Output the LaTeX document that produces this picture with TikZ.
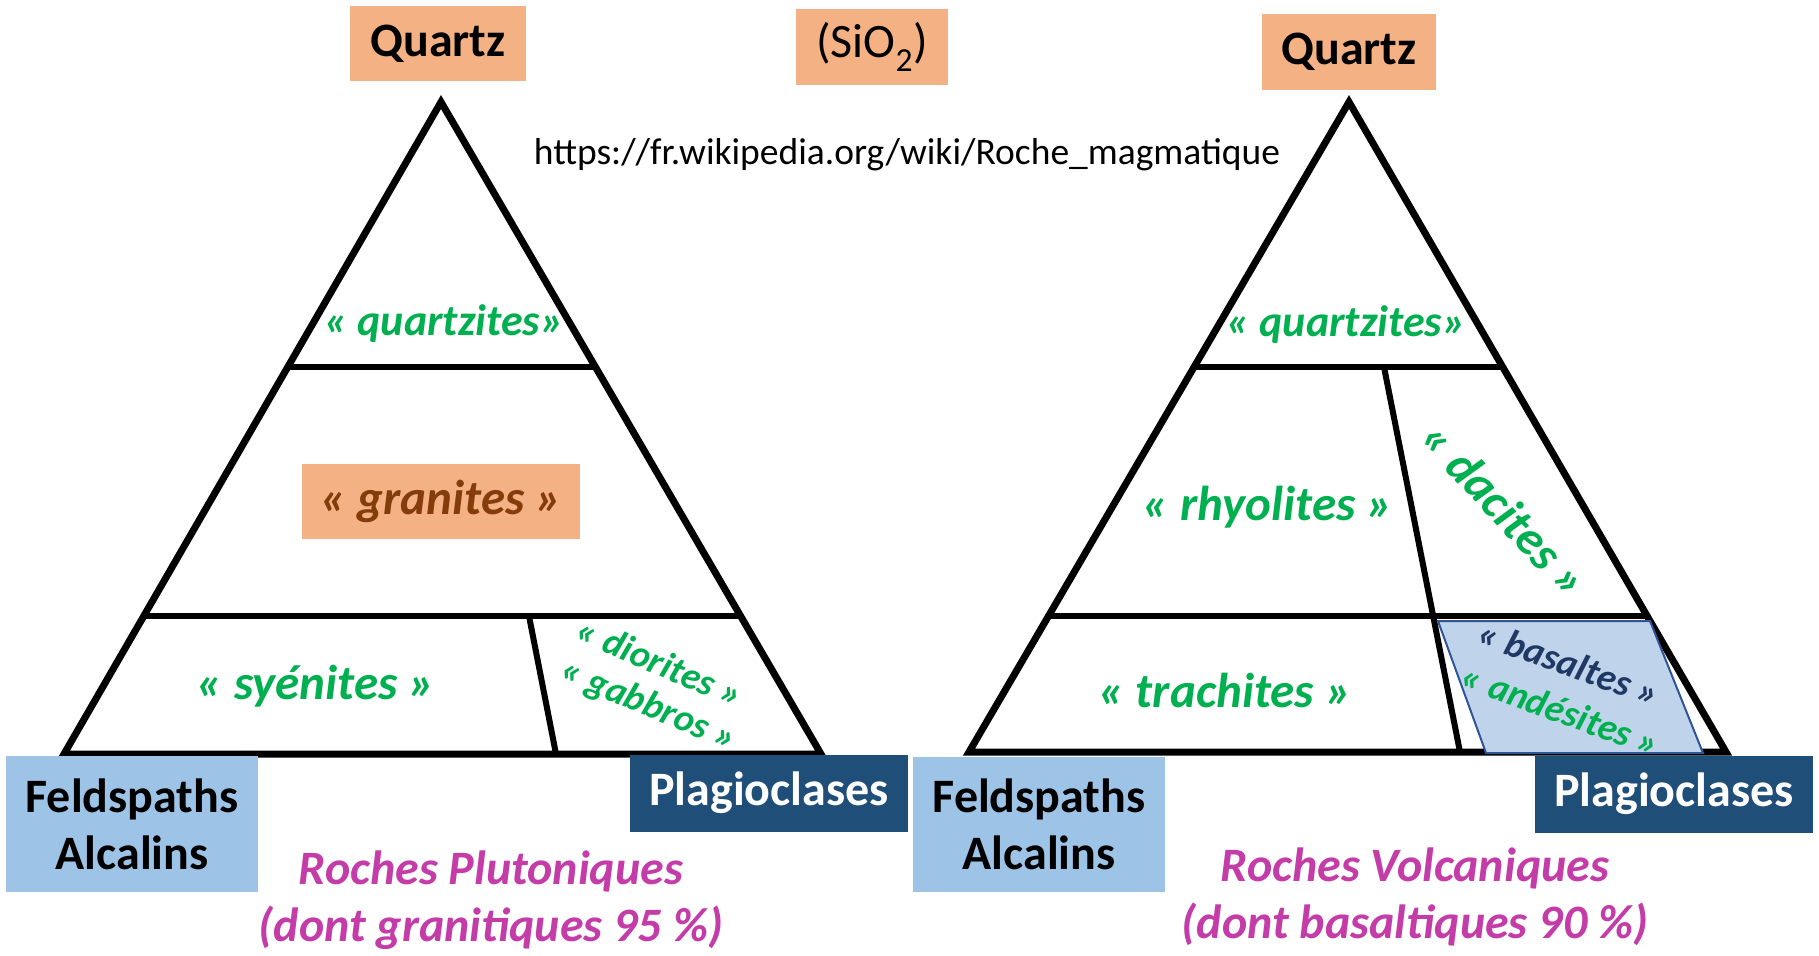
\documentclass[tikz,border=0pt]{standalone}
\usepackage{fontspec}
\setmainfont{Carlito}
\usetikzlibrary{calc}
\definecolor{orangebox}{HTML}{F4B183}
\definecolor{brownlbl}{HTML}{843C0C}
\definecolor{greenlbl}{HTML}{00B050}
\definecolor{lightbluebox}{HTML}{9DC3E6}
\definecolor{darkbluebox}{HTML}{1F4E79}
\definecolor{magentalbl}{HTML}{C43CA8}
\definecolor{navylbl}{HTML}{1F3864}
\definecolor{basfill}{HTML}{BFD3EA}
\definecolor{basline}{HTML}{2F5597}
\begin{document}
\begin{tikzpicture}[x=1pt,y=-1pt,
  tri/.style={line width=7pt, line join=miter, draw=black},
  inner/.style={line width=6pt, draw=black},
  box/.style={rectangle, inner sep=0pt, anchor=center},
  bigfont/.style={font=\fontsize{48}{52}\selectfont\bfseries},
  rocklbl/.style={font=\fontsize{49}{52}\selectfont\bfseries\itshape, text=greenlbl, inner sep=0pt},
  smalllbl/.style={font=\fontsize{38}{40}\selectfont\bfseries\itshape, text=greenlbl, inner sep=0pt},
  famlbl/.style={font=\fontsize{48}{57}\selectfont\bfseries\itshape, text=magentalbl, inner sep=0pt, align=center}
]
\useasboundingbox (0,0) rectangle (1819,955);
\fill[white] (0,0) rectangle (1819,955);

% ---------- left triangle ----------
\coordinate (LA) at (441,102);
\coordinate (LL) at (64,754);
\coordinate (LR) at (821,754);
\draw[tri] (LA) -- (LL) -- (LR) -- cycle;
\coordinate (L1a) at ($(LA)!0.406!(LL)$);
\coordinate (L1b) at ($(LA)!0.406!(LR)$);
\coordinate (L2a) at ($(LA)!0.788!(LL)$);
\coordinate (L2b) at ($(LA)!0.788!(LR)$);
\draw[inner] (L1a) -- (L1b);
\draw[inner] (L2a) -- (L2b);
\coordinate (LDt) at (529,616);
\coordinate (LDb) at (556,754);
\draw[inner] (LDt) -- (LDb);

% ---------- right triangle ----------
\coordinate (RA) at (1349,102);
\coordinate (RL) at (969,752);
\coordinate (RR) at (1726,752);
\draw[tri] (RA) -- (RL) -- (RR) -- cycle;
\coordinate (R1a) at ($(RA)!0.408!(RL)$);
\coordinate (R1b) at ($(RA)!0.408!(RR)$);
\coordinate (R2a) at ($(RA)!0.791!(RL)$);
\coordinate (R2b) at ($(RA)!0.791!(RR)$);
\draw[inner] (R1a) -- (R1b);
\draw[inner] (R2a) -- (R2b);
\coordinate (RDt) at (1384,367);
\coordinate (RDb) at (1460,752);
\draw[inner] (RDt) -- (RDb);

% basalt parallelogram
\coordinate (P1) at (1438,621);
\coordinate (P2) at (1650,621);
\coordinate (P3) at (1703,753);
\coordinate (P4) at (1486,753);
\filldraw[fill=basfill, draw=basline, line width=2pt] (P1) -- (P2) -- (P3) -- (P4) -- cycle;

% ---------- top boxes ----------
\node[box, fill=orangebox, minimum width=176pt, minimum height=75pt, bigfont] (qL) at (438,44) {Quartz};
\node[box, fill=orangebox, minimum width=152pt, minimum height=76pt, font=\fontsize{48}{52}\selectfont] (sio) at (872,47) {(SiO\textsubscript{2})};
\node[box, fill=orangebox, minimum width=174pt, minimum height=76pt, bigfont] (qR) at (1349,52) {Quartz};
\node[inner sep=0pt, font=\fontsize{37.5}{40}\selectfont] (url) at (907,155) {https://fr.wikipedia.org/wiki/Roche\_magmatique};

% ---------- left labels ----------
\node[rocklbl, font=\fontsize{44}{48}\selectfont\bfseries\itshape] (quL) at (444,324) {« quartzites»};
\node[box, fill=orangebox, minimum width=278pt, minimum height=75pt, font=\fontsize{49}{52}\selectfont\bfseries\itshape, text=brownlbl] (gra) at (441,501) {« granites »};
\node[rocklbl] (sye) at (316,686) {« syénites »};
\node[smalllbl, rotate=-23] (dio) at (660,662) {« diorites »};
\node[smalllbl, rotate=-23] (gab) at (648,706) {« gabbros »};

% ---------- right labels ----------
\node[rocklbl, font=\fontsize{44}{48}\selectfont\bfseries\itshape] (quR) at (1346,325) {« quartzites»};
\node[rocklbl] (rhy) at (1268,507) {« rhyolites »};
\node[rocklbl, rotate=-47] (dac) at (1505,509) {« dacites »};
\node[rocklbl] (tra) at (1225,690) {« trachites »};
\node[smalllbl, rotate=-20, text=navylbl] (bas) at (1569,663) {« basaltes »};
\node[smalllbl, rotate=-20] (and) at (1561,710) {« andésites »};

% ---------- corner boxes ----------
\node[box, fill=lightbluebox, minimum width=252pt, minimum height=136pt, align=center, font=\fontsize{48}{57}\selectfont\bfseries] (feL) at (132,824) {Feldspaths\\Alcalins};
\node[box, fill=darkbluebox, minimum width=278pt, minimum height=77pt, bigfont, text=white] (plL) at (769,793) {Plagioclases};
\node[box, fill=lightbluebox, minimum width=252pt, minimum height=135pt, align=center, font=\fontsize{48}{57}\selectfont\bfseries] (feR) at (1039,824) {Feldspaths\\Alcalins};
\node[box, fill=darkbluebox, minimum width=278pt, minimum height=77pt, bigfont, text=white] (plR) at (1674,794) {Plagioclases};

% ---------- family captions ----------
\node[famlbl] (plu) at (491,900) {Roches Plutoniques\\(dont granitiques 95 \%)};
\node[famlbl] (vol) at (1415,897) {Roches Volcaniques\\(dont basaltiques 90 \%)};
\end{tikzpicture}
\end{document}
